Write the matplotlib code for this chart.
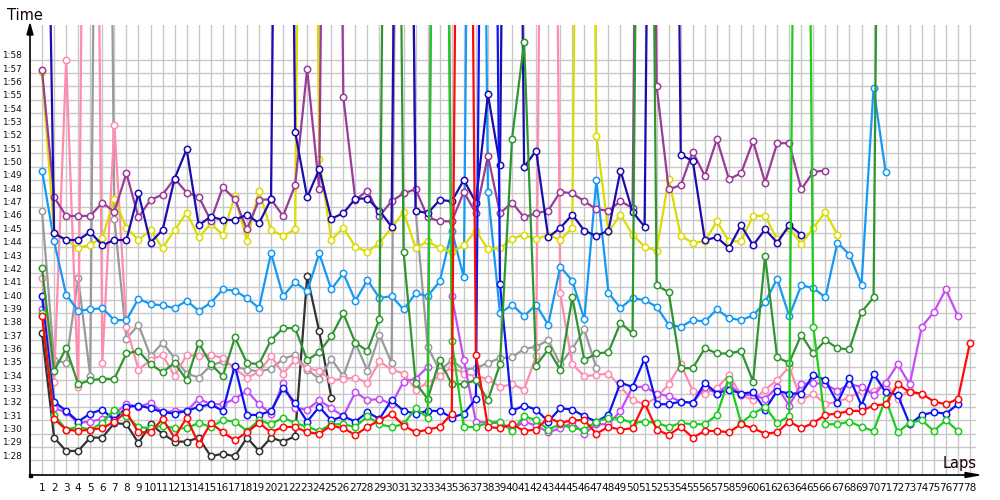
import matplotlib
matplotlib.use("Agg")
import matplotlib.pyplot as plt
from matplotlib.transforms import ScaledTranslation
from matplotlib.lines import Line2D
from matplotlib.patches import Polygon, Rectangle
import numpy as np

# ---- data (lap times in seconds); OFF = lap time far above the chart (estimated) ----
OFF = 200.0
NAVY_LAP1 = 160.0

lap_ticks = list(range(1, 79))
second_ticks = list(range(88, 119))

red = [98.8, 91.1, 90.3, 90.2, 90.3, 90.4, 90.9, 91.6, 90.1, 90.1, 91.1, 89.7, 91.2, 89.2, 90.8, 90.1, 89.5, 90.1,
       90.8, 90.1, 90.5, 90.5, 90.1, 90.0, 90.6, 90.4, 89.9, 90.5, 91.0, 91.5, 90.6, 90.1, 90.3, 90.5, 91.5, OFF,
       95.9, 90.5, 90.4, 90.7, 90.2, 90.3, 91.2, 90.8, 91.0, 91.0, 90.0, 90.5, 90.3, 90.4, 92.3, 90.3, 89.9, 90.5,
       89.7, 90.2, 90.2, 90.1, 90.7, 90.4, 90.0, 90.1, 90.9, 90.4, 90.8, 91.4, 91.5, 91.7, 91.7, 92.1, 92.2, 93.7,
       93.1, 93.0, 92.4, 92.2, 92.6, 96.8]

lime = [99.0, 91.4, 90.3, 90.5, 90.3, 90.8, 91.8, 91.3, 90.5, 90.4, 90.6, 90.4, 90.4, 90.8, 90.5, 91.0, 90.9, 90.2,
        91.0, 90.7, 91.2, 90.8, 90.5, 90.2, 90.7, 90.7, 90.5, 91.3, 90.7, 90.5, 90.7, 91.9, 91.2, OFF, 96.9, 90.5,
        90.5, 90.8, 90.9, 90.2, 91.3, 91.0, 90.3, 90.7, 90.4, 90.3, 90.9, 91.2, 91.1, 90.8, 90.9, 90.8, 90.5, 90.8,
        90.7, 90.7, 91.4, 94.1, 90.8, 91.5, 92.0, 90.8, 91.3, OFF, 98.0, 90.7, 90.7, 90.9, 90.5, 90.2, 92.6, 90.1,
        90.8, 91.0, 90.2, 91.0, 90.2]

dark_green = [102.4, 94.7, 96.4, 93.7, 94.0, 94.1, 94.1, 96.0, 96.2, 95.2, 94.6, 95.3, 94.0, 96.8, 95.2, 94.3, 97.2,
              95.3, 95.2, 97.0, 97.9, 97.9, 95.5, 96.1, 97.3, 99.0, 96.8, 96.2, 98.6, OFF, 103.6, 93.8, 92.6, 95.5,
              93.7, 93.7, 94.0, 92.5, 95.2, 112.1, 119.3, 95.1, 96.3, 94.8, 100.2, 95.5, 96.0, 96.1, 98.3, 97.5, OFF,
              101.1, 100.6, 94.9, 94.9, 96.4, 96.0, 96.0, 96.2, 93.9, 103.3, 95.7, 95.3, 97.4, 96.0, 97.0, 96.4, 96.3,
              99.1, 100.2, OFF]

blue = [100.3, 92.4, 91.7, 90.9, 91.5, 91.8, 91.0, 92.0, 92.1, 91.9, 91.6, 91.5, 91.7, 92.0, 92.2, 91.7, 95.1, 91.4,
        91.4, 91.7, 93.4, 92.3, 90.9, 92.0, 91.0, 91.3, 90.9, 91.6, 91.1, 92.5, 91.7, 91.5, 91.7, 91.7, 91.2, 91.5,
        92.6, OFF, 101.2, 91.7, 92.1, 91.8, 90.9, 91.9, 91.8, 91.3, 90.9, 91.4, 93.8, 93.5, 95.6, 92.2, 92.2, 92.4,
        92.3, 93.8, 93.0, 93.3, 93.0, 93.1, 91.8, 93.2, 93.0, 93.0, 94.4, 94.0, 92.3, 94.2, 92.1, 94.5, 93.1, 92.9,
        90.7, 91.4, 91.6, 91.5, 92.2]

navy = [NAVY_LAP1, 105.0, 104.5, 104.5, 105.1, 104.1, 104.5, 104.5, 108.0, 104.3, 105.25, 109.1, 111.3, 105.6,
        106.25, 106.0, 106.0, 106.4, 105.75, 107.55, OFF, 112.6, 107.7, 109.8, 106.1, 106.5, 107.6, 107.6, 106.7,
        105.5, OFF, 106.7, 106.5, 107.5, 107.4, 109.0, 107.3, 115.4, 110.1, OFF, 109.95, 111.2, 104.7, 105.4, 106.4,
        105.2, 104.8, 105.2, 109.7, 106.6, 105.5, OFF, OFF, 110.9, 110.4, 104.5, 104.7, 103.9, 105.6, 104.1, 105.3,
        104.3, 105.6, 104.9]

purple = [117.2, 107.7, 106.3, 106.3, 106.3, 107.3, 106.6, 109.5, 106.2, 107.5, 107.9, 109.1, 108.05, 107.75, 105.95,
          108.45, 107.55, 105.3, 107.5, 107.55, 106.3, 108.6, 117.3, 108.3, OFF, 115.2, 107.5, 108.2, 106.3, 107.4,
          108.0, 108.3, 106.2, 105.9, 105.9, 108.1, 106.5, 110.8, 106.5, 107.3, 106.2, 106.5, 106.7, 108.1, 108.0,
          107.4, 106.8, 106.7, 107.4, 106.9, OFF, 116.0, 108.3, 108.6, 111.1, 109.3, 112.05, 109.05, 109.5, 111.9,
          108.8, 111.75, 111.75, 108.3, 109.6, 109.7]

violet = [99.3, 91.9, 91.6, 90.8, 90.9, 91.1, 91.5, 92.2, 92.0, 92.3, 91.6, 91.7, 91.7, 92.6, 92.2, 92.2, 92.6, 93.2,
          92.2, 91.5, 93.8, 91.9, 91.8, 92.5, 91.9, 91.3, 93.1, 92.5, 92.6, 92.2, 93.9, 94.1, 95.0, OFF, 100.3, 95.5,
          90.9, 90.8, 90.8, 90.3, 90.9, 90.6, 90.1, 90.4, 90.8, 90.0, 90.7, 90.7, 91.7, 93.5, 93.5, 93.0, 92.8, 92.4,
          92.3, 93.5, 93.0, 93.7, 92.9, 92.9, 92.6, 93.5, 92.1, 93.7, 93.8, 93.7, 93.2, 93.7, 93.5, 92.9, 93.8, 95.2,
          93.7, 98.0, 99.1, 100.8, 98.8]

yellow = [117.1, 105.0, 104.5, 103.9, 104.15, 104.65, 107.6, 105.4, 104.5, 105.25, 103.9, 105.25, 106.55, 104.7,
          105.7, 104.9, 107.8, 104.45, 108.2, 105.25, 104.8, 105.3, OFF, 110.6, 104.5, 105.4, 104.0, 103.6, 104.3,
          105.4, 106.6, 103.9, 104.4, 103.9, 103.6, 104.1, 105.2, 103.8, 103.9, 104.6, 104.9, 104.55, 104.9, 104.5,
          105.4, OFF, 112.3, 105.1, 106.4, 104.9, 104.0, 103.7, 109.1, 104.8, 104.3, 104.4, 105.9, 104.4, 104.4,
          106.3, 106.3, 104.55, 105.4, 104.2, 105.4, 106.6, 104.9]

light_blue = [109.7, 104.4, 100.4, 99.2, 99.3, 99.4, 98.5, 98.5, 100.1, 99.7, 99.6, 99.4, 99.95, 99.2, 99.8, 100.8,
              100.7, 100.15, 99.4, 103.5, 100.3, 101.35, 100.65, 103.5, 100.8, 102.0, 99.95, 101.5, 100.15, 100.3,
              99.3, 100.5, 100.3, 101.4, 105.2, 101.7, OFF, 108.1, 99.0, 99.65, 98.8, 99.65, 98.15, 102.5, 101.45,
              98.55, 109.0, 100.55, 99.4, 100.15, 100.0, 99.5, 98.15, 98.0, 98.5, 98.4, 99.3, 98.65, 98.5, 98.85,
              99.85, 101.6, 98.8, 101.1, 100.9, 100.2, 104.3, 103.4, 101.15, 115.9, 109.6]

pink = [101.65, 93.9, 117.95, 93.5, OFF, 95.3, 113.1, 98.0, 94.8, 95.5, 95.9, 94.3, 95.9, 95.8, 95.9, 95.65, 94.85,
        94.2, 94.6, 95.8, 94.5, 95.5, 94.9, 94.7, 94.0, 94.1, 94.2, 93.8, 95.4, 94.8, 94.5, 93.3, 93.8, 94.3, 95.0,
        94.5, 94.3, 94.1, 93.5, 93.7, 93.3, 95.8, OFF, 100.5, 95.2, 94.3, 94.4, 94.5, 93.5, 92.5, 92.2, 92.7, 93.7,
        95.2, 93.2, 93.0, 93.4, 94.4, 92.9, 92.5, 93.3, 94.0, 95.0, 92.5, 93.0, 92.2, 92.4, 92.7, 93.2, 93.2, 93.8,
        92.6, 93.3, 92.9]

gray = [106.65, 95.5, 95.3, 101.65, 94.3, OFF, 106.1, 97.1, 98.15, 95.8, 96.8, 95.65, 94.5, 94.2, 95.1, 95.4, 95.0,
        94.8, 94.65, 94.85, 95.6, 95.9, 94.8, 94.1, 95.6, 94.3, 96.8, 94.7, 97.4, 95.3, OFF, 106.7, 96.5, 94.7, 95.5,
        94.8, 94.9, 95.3, 95.65, 95.7, 96.35, 96.5, 97.0, 95.2, 96.35, 97.8, 94.9]

dark_gray = [97.5, 89.7, 88.7, 88.7, 89.7, 89.7, 90.8, 90.7, 89.3, 90.7, 90.0, 89.4, 89.4, 89.7, 88.3, 88.5, 88.3,
             89.7, 88.7, 89.7, 89.4, 89.8, 101.8, 97.65, 92.7]

# ---- drawing ----
W, H = 1000, 500
fig = plt.figure(figsize=(10, 5), dpi=100)
fig.patch.set_facecolor("white")
ax = fig.add_axes([30 / W, 25 / H, 946 / W, 450 / H])
ax.set_xlim(0.0, 78.5)
ax.set_ylim(86.9, 120.6)
for s in ax.spines.values():
    s.set_visible(False)

ax.set_axisbelow(True)
ax.set_xticks(lap_ticks)
ax.set_yticks(second_ticks)
ax.grid(True, color="#c8c8c8", linewidth=1.0)
ax.tick_params(length=0)
ax.set_xticklabels([str(v) for v in lap_ticks], fontsize=7.6, color="#111111")
ax.set_yticklabels([f"{v // 60}:{v % 60:02d}" for v in second_ticks], fontsize=6.4, color="#111111")
ax.tick_params(axis="x", pad=6)
ax.tick_params(axis="y", pad=6)
off = ScaledTranslation(0, 5 / 100, fig.dpi_scale_trans)
for lab in ax.get_yticklabels():
    lab.set_transform(lab.get_transform() + off)

series = [
    (dark_gray, "#333333"),
    (gray, "#9a9a9a"),
    (pink, "#ff8cae"),
    (light_blue, "#1499f5"),
    (yellow, "#dcdc00"),
    (purple, "#993c99"),
    (navy, "#1c0cb0"),
    (violet, "#c84bf8"),
    (blue, "#0a14f5"),
    (dark_green, "#2f962f"),
    (lime, "#1ecb1e"),
    (red, "#ff0a0a"),
]
for vals, col in series:
    x = np.arange(1, len(vals) + 1)
    ax.plot(x, vals, color=col, lw=1.6, marker="o", ms=4.6, mfc="white", mec=col, mew=1.1,
            clip_on=True, zorder=3)

# axis lines with arrows (figure pixels -> fractions)
def fx(px):
    return px / W

def fy(py):
    return 1 - py / H

lw_axis = 1.2
fig.add_artist(Line2D([fx(30), fx(30)], [fy(475), fy(33)], color="black", lw=lw_axis))
fig.add_artist(Line2D([fx(30), fx(967)], [fy(475), fy(475)], color="black", lw=lw_axis))
fig.add_artist(Polygon([[fx(30), fy(24)], [fx(27), fy(35)], [fx(33), fy(35)]], closed=True,
                       transform=fig.transFigure, color="black"))
fig.add_artist(Polygon([[fx(979), fy(475)], [fx(965), fy(472.5)], [fx(965), fy(477.5)]], closed=True,
                       transform=fig.transFigure, color="black"))
fig.add_artist(Rectangle((fx(28.5), fy(476.5)), 3 / W, 3 / H, transform=fig.transFigure, color="black"))

fig.text(fx(7), fy(20), "Time", fontsize=10.5, color="#140000", va="baseline", ha="left")
fig.text(fx(943), fy(468), "Laps", fontsize=10.5, color="#140000", va="baseline", ha="left")

fig.savefig("out.png", dpi=100)
